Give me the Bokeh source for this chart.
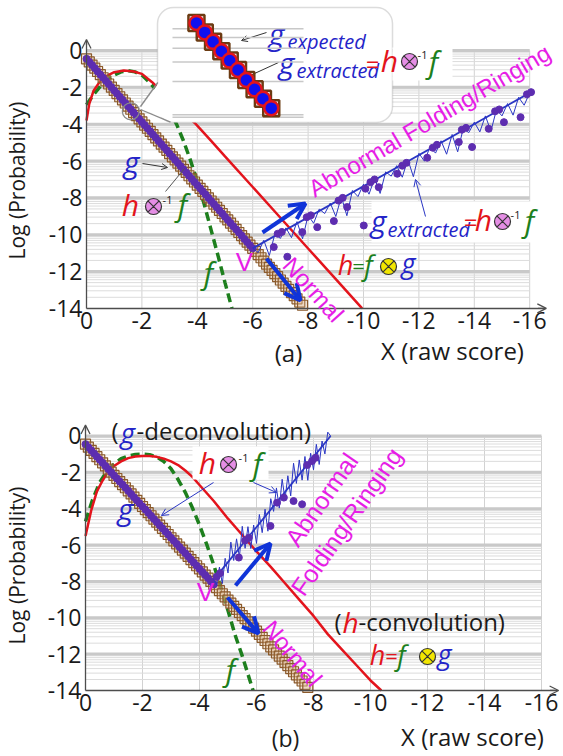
import math
from bokeh.plotting import figure
from bokeh.models import (Range1d, Label, Arrow, OpenHead, BoxAnnotation,
                          PolyAnnotation, FixedTicker)
from bokeh.layouts import column
from bokeh.embed import file_html
from bokeh.resources import INLINE

# ---------------- data ----------------
X_TICKS = [0, -2, -4, -6, -8, -10, -12, -14, -16]
Y_TICKS = [0, -2, -4, -6, -8, -10, -12, -14]
MINOR_K = [2, 3, 4, 5, 6, 7, 8, 9, 9.5]

# g (expected, squares) and g extracted (dots, normal part)
G_X = [0.0, -0.1, -0.2, -0.3, -0.4, -0.5, -0.6, -0.7, -0.8, -0.9,
       -1.0, -1.1, -1.2, -1.3, -1.4, -1.5, -1.6, -1.7, -1.8, -1.9,
       -2.0, -2.1, -2.2, -2.3, -2.4, -2.5, -2.6, -2.7, -2.8, -2.9,
       -3.0, -3.1, -3.2, -3.3, -3.4, -3.5, -3.6, -3.7, -3.8, -3.9,
       -4.0, -4.1, -4.2, -4.3, -4.4, -4.5, -4.6, -4.7, -4.8, -4.9,
       -5.0, -5.1, -5.2, -5.3, -5.4, -5.5, -5.6, -5.7, -5.8, -5.9,
       -6.0, -6.1, -6.2, -6.3, -6.4, -6.5, -6.6, -6.7, -6.8, -6.9,
       -7.0, -7.1, -7.2, -7.3, -7.4, -7.5, -7.6, -7.7, -7.8]
G_Y = [-0.45, -0.62, -0.79, -0.96, -1.14, -1.31, -1.48, -1.65, -1.82, -1.99,
       -2.17, -2.34, -2.51, -2.68, -2.85, -3.02, -3.19, -3.37, -3.54, -3.71,
       -3.88, -4.05, -4.22, -4.39, -4.57, -4.74, -4.91, -5.08, -5.25, -5.42,
       -5.60, -5.77, -5.94, -6.11, -6.28, -6.45, -6.62, -6.80, -6.97, -7.14,
       -7.31, -7.48, -7.65, -7.82, -8.00, -8.17, -8.34, -8.51, -8.68, -8.85,
       -9.03, -9.20, -9.37, -9.54, -9.71, -9.88, -10.05, -10.23, -10.40, -10.57,
       -10.74, -10.91, -11.08, -11.25, -11.43, -11.60, -11.77, -11.94, -12.11, -12.28,
       -12.46, -12.63, -12.80, -12.97, -13.14, -13.31, -13.48, -13.66, -13.83]
DOT_END_A = -6.0
DOT_END_B = -4.5

# panel (a) curves
F_A_X = [0, -0.25, -0.5, -0.75, -1.0, -1.25, -1.5, -1.75, -2.0, -2.25, -2.5,
         -2.75, -3.0, -3.25, -3.5, -3.75, -4.0, -4.25, -4.5, -4.75, -5.0, -5.25]
F_A_Y = [-2.95, -2.4, -1.95, -1.6, -1.33, -1.16, -1.1, -1.16, -1.33, -1.7, -2.1,
         -2.6, -3.2, -4.0, -4.9, -5.95, -7.1, -8.35, -9.75, -11.15, -12.6, -14.0]
H_A_X = [0, -0.1, -0.25, -0.5, -0.75, -1.0, -1.35, -1.7, -2.0, -2.37, -2.7, -3.0,
         -3.4, -3.94, -4.5, -5.0, -6.0, -7.0, -8.0, -9.0, -9.95]
H_A_Y = [-3.8, -2.9, -2.2, -1.65, -1.36, -1.18, -1.09, -1.14, -1.27, -1.72, -2.2, -2.65,
         -3.25, -3.98, -4.91, -5.75, -7.41, -9.08, -10.75, -12.41, -14.0]
ABN_LINE_A_X = [-6.0, -16.0]
ABN_LINE_A_Y = [-10.74, -2.30]
ZIG_A_X = [-6.0, -6.2, -6.4, -6.6, -6.8, -7.0, -7.2, -7.4, -7.6, -7.8,
           -8.0, -8.2, -8.4, -8.6, -8.8, -9.0, -9.2, -9.4, -9.6, -9.8,
           -10.0, -10.2, -10.4, -10.6, -10.8, -11.0, -11.2, -11.4, -11.6, -11.8,
           -12.0, -12.2, -12.4, -12.6, -12.8, -13.0, -13.2, -13.4, -13.6, -13.8,
           -14.0, -14.2, -14.4, -14.6, -14.8, -15.0, -15.2, -15.4, -15.6, -15.8, -16.0]
ZIG_A_Y = [-10.74, -10.97, -10.30, -11.13, -9.96, -10.20, -9.63, -10.16, -9.29, -10.22,
           -8.95, -9.38, -8.61, -8.85, -8.28, -9.01, -7.94, -8.97, -7.60, -7.93,
           -7.26, -7.80, -6.93, -7.76, -6.59, -6.82, -6.25, -6.88, -5.91, -6.85,
           -5.58, -6.01, -5.24, -5.57, -4.90, -5.63, -4.56, -5.50, -4.23, -4.46,
           -3.89, -4.42, -3.55, -4.38, -3.21, -3.55, -2.88, -3.51, -2.54, -2.97, -2.30]
ABN_A_X = [-6.9, -7.05, -6.76, -7.25, -7.95, -8.1, -7.79, -8.33, -9.1, -9.25, -8.93, -9.41,
           -10.01, -10.25, -10.4, -10.07, -10.55, -11.4, -11.55, -11.22, -12.5, -12.65, -12.3,
           -13.55, -13.7, -13.44, -13.92, -14.75, -14.9, -14.52, -15.07, -15.9, -16.05, -15.67]
ABN_A_Y = [-9.95, -9.85, -10.67, -11.2, -9.05, -8.95, -9.86, -9.59, -8.15, -8.0, -9.26, -8.5,
           -9.5, -7.15, -7.0, -7.5, -7.42, -6.25, -6.1, -6.69, -5.28, -5.12, -5.82,
           -4.3, -4.2, -4.97, -5.24, -3.3, -3.2, -4.25, -3.89, -2.38, -2.26, -3.62]

# panel (b) curves
F_B_X = [0, -0.25, -0.5, -0.75, -1.0, -1.25, -1.5, -1.75, -2.0, -2.25, -2.5, -2.75, -3.0,
         -3.25, -3.5, -3.75, -4.0, -4.25, -4.5, -4.75, -5.0, -5.25, -5.5, -5.75, -5.88]
F_B_Y = [-4.7, -3.5, -2.55, -1.95, -1.55, -1.25, -1.1, -1.02, -1.0, -1.03, -1.15, -1.4, -1.8,
         -2.4, -3.1, -3.95, -4.9, -5.95, -7.1, -8.35, -9.6, -10.95, -12.1, -13.35, -14.0]
H_B_X = [0, -0.2, -0.4, -0.6, -0.8, -1.0, -1.25, -1.5, -1.75, -2.0, -2.25, -2.5, -2.75, -3.0,
         -3.25, -3.5, -3.75, -4.0, -4.5, -5.0, -5.5, -6.0, -6.5, -7.0, -7.5, -8.0, -8.5, -9.0,
         -9.5, -10.0, -10.38]
H_B_Y = [-5.5, -4.1, -3.05, -2.45, -1.95, -1.65, -1.4, -1.22, -1.13, -1.1, -1.1, -1.15, -1.25,
         -1.4, -1.6, -1.9, -2.25, -2.7, -3.58, -4.55, -5.45, -6.35, -7.2, -8.1, -9.0, -9.9,
         -10.9, -11.75, -12.6, -13.45, -14.0]
ABN_LINE_B_X = [-4.5, -8.6]
ABN_LINE_B_Y = [-7.9, 0.0]
ZIG_B_X = [-4.5, -4.6, -4.7, -4.8, -4.9, -5.0, -5.1, -5.2, -5.3, -5.4,
           -5.5, -5.6, -5.7, -5.8, -5.9, -6.0, -6.1, -6.2, -6.3, -6.4,
           -6.5, -6.6, -6.7, -6.8, -6.9, -7.0, -7.1, -7.2, -7.3, -7.4,
           -7.5, -7.6, -7.7, -7.8, -7.9, -8.0, -8.1, -8.2, -8.3, -8.4, -8.5, -8.6]
ZIG_B_Y = [-7.90, -8.21, -7.21, -8.12, -6.73, -7.54, -5.84, -6.85, -5.66, -6.67,
           -4.97, -6.18, -4.99, -6.19, -4.90, -5.91, -4.32, -5.32, -4.03, -5.24,
           -3.45, -4.15, -2.86, -3.97, -2.38, -3.48, -2.19, -3.30, -1.50, -2.61,
           -1.32, -2.43, -1.13, -2.44, -0.95, -1.86, -0.46, -1.57, -0.28, -0.99, 0.21, 0.00]
ABN_B_X = [-4.6, -4.72, -5.38, -5.6, -5.73, -6.49, -6.72, -6.96, -7.3, -7.6, -7.78, -7.95, -8.07]
ABN_B_Y = [-7.75, -7.55, -6.69, -5.75, -5.6, -4.95, -3.67, -3.39, -3.58, -3.76, -1.6, -1.38, -1.2]

# ---------------- styles ----------------
FONT = "Open Sans"
ARIAL = "Liberation Sans"
AX_COLOR = "#4d4d4d"
BLUE = "#2424c8"
BLUE_LINE = "#2a36c4"
ARROW_BLUE = "#1034d8"
RED = "#e3141c"
GREEN = "#1d7f1d"
MAGENTA = "#e61ee6"
PURPLE = "#5d2db0"
BROWN = "#8b5a2b"
PINK_OT = "#e58ee5"
YELLOW_OT = "#f2e600"

# pixel -> data helpers (annotation placement); panel (b) uses page pixels
A_X0, A_SX, A_Y0, A_SY = 86.0, 27.7, 50.0, 18.42
B_X0, B_SX, B_Y0, B_SY = 85.0, 28.5, 435.45, 18.18


def ax(px):
    return -(px - A_X0) / A_SX


def ay(py):
    return -(py - A_Y0) / A_SY


def bx(px):
    return -(px - B_X0) / B_SX


def by(py):
    return -(py - B_Y0) / B_SY


def make_fig(xr, yr):
    p = figure(width=563, height=378, x_range=xr, y_range=yr,
               min_border_left=0, min_border_right=0, min_border_top=0, min_border_bottom=0,
               output_backend="svg", toolbar_location=None, title=None)
    p.outline_line_color = None
    p.background_fill_color = "white"
    p.border_fill_color = "white"
    p.xgrid.visible = False
    p.ygrid.visible = False
    p.xaxis.ticker = FixedTicker(ticks=X_TICKS)
    p.yaxis.ticker = FixedTicker(ticks=Y_TICKS)
    p.xaxis.major_label_overrides = {t: str(t) for t in X_TICKS}
    p.yaxis.major_label_overrides = {t: str(t) for t in Y_TICKS}
    p.xaxis.bounds = (-16.5, 0)
    p.yaxis.bounds = (-14, 0.5)
    p.yaxis.fixed_location = 0
    p.xaxis.fixed_location = -14
    for a in (p.xaxis, p.yaxis):
        a.axis_line_color = AX_COLOR
        a.axis_line_width = 1.3
        a.major_tick_out = 0
        a.major_tick_in = 0
        a.minor_tick_out = 0
        a.minor_tick_in = 0
        a.major_label_text_font = FONT
        a.major_label_text_font_size = "23px"
        a.major_label_text_color = "#1a1a1a"
        a.major_label_standoff = 4
    p.add_layout(Arrow(end=OpenHead(size=9, line_color=AX_COLOR, line_width=1.3),
                       x_start=-16.3, y_start=-14, x_end=-16.6, y_end=-14,
                       line_color=AX_COLOR, line_width=1.3))
    p.add_layout(Arrow(end=OpenHead(size=9, line_color=AX_COLOR, line_width=1.3),
                       x_start=0, y_start=0.3, x_end=0, y_end=0.6,
                       line_color=AX_COLOR, line_width=1.3))
    # grid (drawn as segments so that it stays inside the 0..-16 / 0..-14 box)
    vx = X_TICKS[1:]
    p.segment(x0=vx, y0=[Y_TICKS[-1]] * len(vx), x1=vx, y1=[Y_TICKS[0]] * len(vx),
              line_color="#d2d2d2", line_width=1)
    minor = [t - 2 + 2 * math.log10(k) for t in Y_TICKS[:-1] for k in MINOR_K]
    p.segment(x0=[X_TICKS[0]] * len(minor), y0=minor, x1=[X_TICKS[-1]] * len(minor), y1=minor,
              line_color="#dcdcdc", line_width=1)
    major = Y_TICKS[:-1]
    p.segment(x0=[X_TICKS[0]] * len(major), y0=major, x1=[X_TICKS[-1]] * len(major), y1=major,
              line_color="#c9c9c9", line_width=3)
    return p


def lab(p, x, y, text, size, color="#1a1a1a", italic=False, align="center",
        baseline="middle", angle=0.0, font=FONT):
    p.add_layout(Label(x=x, y=y, text=text, text_font=font, text_font_size=f"{size}px",
                       text_color=color, text_font_style="italic" if italic else "normal",
                       text_align=align, text_baseline=baseline, angle=angle))


def arr(p, x0, y0, x1, y1, color, width, head=7, head_w=None):
    end = OpenHead(size=head, line_color=color, line_width=head_w or width) if head else None
    p.add_layout(Arrow(end=end, x_start=x0, y_start=y0, x_end=x1, y_end=y1,
                       line_color=color, line_width=width))


def otimes(p, x, y, fill, size=16):
    p.scatter([x], [y], marker="circle_x", size=size, fill_color=fill, line_color="#333333",
              line_width=1.2, level="overlay")


def wbox(p, l, r, t, b):
    p.add_layout(BoxAnnotation(left=l, right=r, top=t, bottom=b, fill_color="white",
                               fill_alpha=1, line_alpha=0))


def draw_data(p, fx, fy, hx, hy, dot_end, lx, ly, zx, zy, dx, dy):
    p.line(fx, fy, line_color=GREEN, line_width=3.5, line_dash="9 5")
    p.line(hx, hy, line_color=RED, line_width=2.5)
    p.scatter(G_X, G_Y, marker="square", size=10, line_color=BROWN, fill_color="#d9b48a",
              fill_alpha=0.3, line_width=1.2)
    gx = [x for x in G_X if x >= dot_end]
    gy = [y for x, y in zip(G_X, G_Y) if x >= dot_end]
    p.line(gx, gy, line_color="#3d2aa8", line_width=2)
    p.scatter(gx, gy, size=7, fill_color=PURPLE, line_color=PURPLE)
    p.line(lx, ly, line_color=BLUE_LINE, line_width=1.8)
    p.line(zx, zy, line_color=BLUE_LINE, line_width=1)
    p.scatter(dx, dy, size=7, fill_color=PURPLE, line_color=PURPLE)


# ======================= panel (a) =======================
pa = make_fig(Range1d(ax(0), ax(563)), Range1d(ay(378), ay(0)))
draw_data(pa, F_A_X, F_A_Y, H_A_X, H_A_Y, DOT_END_A, ABN_LINE_A_X, ABN_LINE_A_Y,
          ZIG_A_X, ZIG_A_Y, ABN_A_X, ABN_A_Y)

# magnifier circle on g
pa.scatter([-1.6], [-3.3], marker="circle", size=17, fill_alpha=0, line_color="#8a8a8a",
           line_width=1.2)

# inset call-out box
pa.add_layout(BoxAnnotation(left=ax(157), right=ax(392), top=ay(7), bottom=ay(122),
                            fill_color="white", fill_alpha=1, line_color="#8a8a8a",
                            line_width=1.5, border_radius=16))
pa.add_layout(PolyAnnotation(xs=[ax(158.5), ax(140), ax(170)], ys=[ay(82), ay(108), ay(120.5)],
                             fill_color="white", fill_alpha=1, line_alpha=0))
arr(pa, ax(157.3), ay(82), ax(140), ay(106), "#8a8a8a", 1.3, head=0)
arr(pa, ax(140), ay(109), ax(170), ay(121.7), "#8a8a8a", 1.3, head=0)

# magnified view inside the inset (extra ranges)
M = 3.0
U0 = -1.6
W0 = G_Y[G_X.index(-1.6)]
IC_X, IC_Y = ax(237.5), ay(69.5)
pa.extra_x_ranges = {"ix": Range1d(U0 + (pa.x_range.start - IC_X) / M,
                                   U0 + (pa.x_range.end - IC_X) / M)}
pa.extra_y_ranges = {"iy": Range1d(W0 + (pa.y_range.start - IC_Y) / M,
                                   W0 + (pa.y_range.end - IC_Y) / M)}
HW = (131 / 2) / (M * A_SX)
HH = (95 / 2) / (M * A_SY)
ins = [(x, y) for x, y in zip(G_X, G_Y) if abs(x - U0) <= HW and abs(y - W0) <= HH]
grid_in = [v for v in ([t - 2 + 2 * math.log10(k) for t in Y_TICKS[:-1] for k in MINOR_K]
                       + Y_TICKS[:-1]) if abs(v - W0) <= HH]
pa.segment(x0=[U0 + HW] * len(grid_in), y0=grid_in, x1=[U0 - HW] * len(grid_in), y1=grid_in,
           line_color="#c8c8c8", line_width=1.5, x_range_name="ix", y_range_name="iy",
           level="overlay")
pa.scatter([p_[0] for p_ in ins], [p_[1] for p_ in ins], marker="square", size=16,
           fill_alpha=0, line_color="#6b3b12", line_width=2.5,
           x_range_name="ix", y_range_name="iy", level="overlay")
pa.scatter([p_[0] for p_ in ins], [p_[1] for p_ in ins], marker="circle", size=14,
           fill_color="#1010f0", line_color=RED, line_width=2.5,
           x_range_name="ix", y_range_name="iy", level="overlay")

# inset texts
lab(pa, ax(276), ay(33), "g", 30, BLUE, italic=True)
lab(pa, ax(287), ay(41), "expected", 20, BLUE, italic=True, align="left")
arr(pa, ax(266), ay(32), ax(241), ay(40), "#333333", 1, head=6)
wbox(pa, ax(392), ax(452), ay(47), ay(80))
lab(pa, ax(286), ay(62), "g", 30, BLUE, italic=True)
lab(pa, ax(296), ay(70), "extracted", 20, BLUE, italic=True, align="left")
lab(pa, ax(372), ay(63), "=", 24, RED)
lab(pa, ax(389), ay(60), "h", 30, RED, italic=True)
otimes(pa, ax(409), ay(61), PINK_OT)
lab(pa, ax(422), ay(54), "-1", 11)
lab(pa, ax(433), ay(61), "f", 30, GREEN, italic=True)
arr(pa, ax(278), ay(62), ax(241), ay(79), "#333333", 1, head=6)

# labels on panel (a)
lab(pa, ax(131), ay(161), "g", 30, BLUE, italic=True)
arr(pa, ax(142), ay(163), ax(167), ay(167), "#333333", 1, head=6)
lab(pa, ax(130), ay(204), "h", 30, RED, italic=True)
otimes(pa, ax(153), ay(206), PINK_OT)
lab(pa, ax(167), ay(199), "-1", 11)
lab(pa, ax(182), ay(204), "f", 30, GREEN, italic=True)
arr(pa, ax(165), ay(191), ax(184), ay(168), "#555555", 1, head=0)
lab(pa, ax(208), ay(272), "f", 30, GREEN, italic=True)
lab(pa, ax(244), ay(261), "V", 26, MAGENTA, font=ARIAL)
arr(pa, ax(262), ay(232), ax(305), ay(203), ARROW_BLUE, 4, head=16)
arr(pa, ax(266), ay(258), ax(300), ay(300), ARROW_BLUE, 4, head=16)
lab(pa, ax(313), ay(289), "Normal", 24, MAGENTA, angle=math.radians(-48), font=ARIAL)
lab(pa, ax(429), ay(120), "Abnormal Folding/Ringing", 24, MAGENTA,
    angle=math.radians(30.5), font=ARIAL)

wbox(pa, ax(371), ax(541), ay(201), ay(242))
lab(pa, ax(378), ay(220), "g", 30, BLUE, italic=True)
lab(pa, ax(387), ay(229), "extracted", 20, BLUE, italic=True, align="left")
lab(pa, ax(470), ay(221), "=", 24, RED)
lab(pa, ax(483), ay(219), "h", 30, RED, italic=True)
otimes(pa, ax(502), ay(221), PINK_OT)
lab(pa, ax(515), ay(214), "-1", 11)
lab(pa, ax(529), ay(220), "f", 30, GREEN, italic=True)
arr(pa, ax(425), ay(216), ax(415), ay(179), BLUE_LINE, 1, head=7)

lab(pa, ax(345), ay(264), "h", 27, RED, italic=True)
lab(pa, ax(358), ay(264), "=", 22, GREEN)
lab(pa, ax(368), ay(264), "f", 27, GREEN, italic=True)
otimes(pa, ax(388), ay(266), YELLOW_OT)
lab(pa, ax(408), ay(262), "g", 27, BLUE, italic=True)

lab(pa, ax(452), ay(350), "X (raw score)", 24)
lab(pa, ax(288), ay(352), "(a)", 24)
lab(pa, ax(16), ay(180), "Log (Probability)", 21, angle=math.pi / 2)

# ======================= panel (b) =======================
pb = make_fig(Range1d(bx(0), bx(563)), Range1d(by(756), by(378)))
draw_data(pb, F_B_X, F_B_Y, H_B_X, H_B_Y, DOT_END_B, ABN_LINE_B_X, ABN_LINE_B_Y,
          ZIG_B_X, ZIG_B_Y, ABN_B_X, ABN_B_Y)

lab(pb, bx(111), by(430), "(", 24, align="left")
lab(pb, bx(120), by(431), "g", 28, BLUE, italic=True, align="left")
lab(pb, bx(136), by(430), "-deconvolution)", 24, align="left")

wbox(pb, bx(192), bx(268), by(446), by(479))
lab(pb, bx(207), by(462), "h", 30, RED, italic=True)
otimes(pb, bx(228), by(464), PINK_OT)
lab(pb, bx(243), by(457), "-1", 11)
lab(pb, bx(257), by(463), "f", 30, GREEN, italic=True)
arr(pb, bx(213), by(482), bx(161), by(515), BLUE_LINE, 1, head=7)
arr(pb, bx(253), by(482), bx(276), by(492), BLUE_LINE, 1, head=7)

lab(pb, bx(125), by(508), "g", 30, BLUE, italic=True)
lab(pb, bx(230), by(669), "f", 30, GREEN, italic=True)
lab(pb, bx(205), by(591), "V", 26, MAGENTA, font=ARIAL)
arr(pb, bx(235), by(585), bx(270), by(543), ARROW_BLUE, 4, head=16)
arr(pb, bx(227), by(597), bx(258), by(633), ARROW_BLUE, 4, head=16)
lab(pb, bx(292), by(653), "Normal", 24, MAGENTA, angle=math.radians(-50), font=ARIAL)
lab(pb, bx(321), by(499), "Abnormal", 25, MAGENTA, angle=math.radians(55), font=ARIAL)
lab(pb, bx(346), by(521), "Folding/Ringing", 25, MAGENTA, angle=math.radians(55), font=ARIAL)

lab(pb, bx(334), by(621), "(", 24, align="left")
lab(pb, bx(342), by(621), "h", 28, RED, italic=True, align="left")
lab(pb, bx(358), by(621), "-convolution)", 24, align="left")
lab(pb, bx(377), by(654), "h", 27, RED, italic=True)
lab(pb, bx(391), by(654), "=", 22, RED)
lab(pb, bx(401), by(654), "f", 27, GREEN, italic=True)
otimes(pb, bx(427), by(656), YELLOW_OT)
lab(pb, bx(444), by(653), "g", 27, BLUE, italic=True)

lab(pb, bx(472), by(736), "X (raw score)", 24)
lab(pb, bx(285), by(737), "(b)", 23)
lab(pb, bx(16), by(565), "Log (Probability)", 21, angle=math.pi / 2)

layout = column(pa, pb, spacing=0)
open("out.html", "w").write(file_html(layout, INLINE))
